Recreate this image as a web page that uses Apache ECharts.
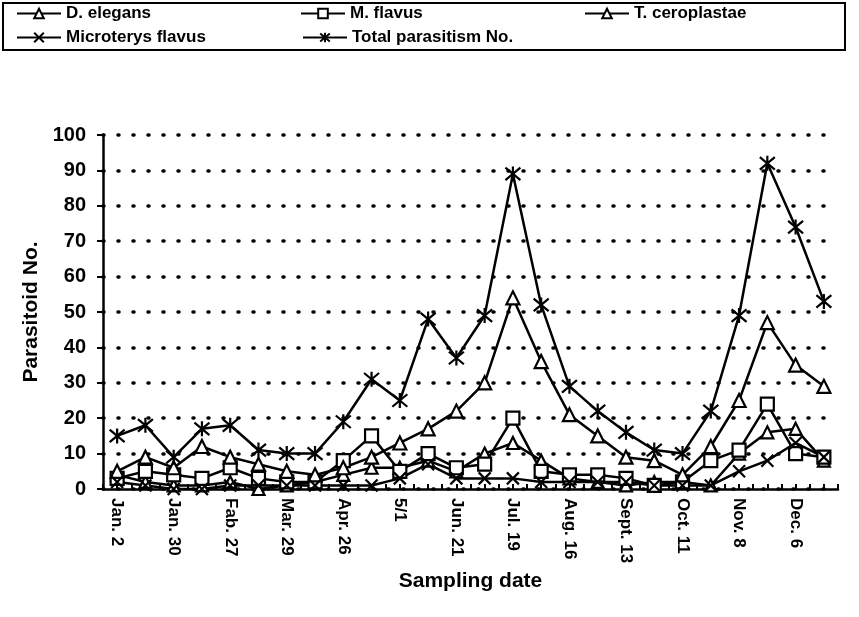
<!DOCTYPE html>
<html>
<head>
<meta charset="utf-8">
<script src="https://cdn.jsdelivr.net/npm/echarts@6/dist/echarts.min.js"></script>
<style>html,body{margin:0;padding:0;background:#fff;}#c{width:859px;height:617px;}</style>
</head>
<body>
<div id="c"></div>
<script>
// 26 sampling occasions; only every other one carries a printed label
const tickLabels = ["Jan. 2","Jan. 30","Fab. 27","Mar. 29","Apr. 26","5/1","Jun. 21","Jul. 19","Aug. 16","Sept. 13","Oct. 11","Nov. 8","Dec. 6"];
const samples = ["s1","s2","s3","s4","s5","s6","s7","s8","s9","s10","s11","s12","s13","s14","s15","s16","s17","s18","s19","s20","s21","s22","s23","s24","s25","s26"];
const dElegans = [4,2,1,1,2,0,1,2,4,6,6,8,5,10,13,8,3,2,1,2,2,1,10,16,17,8];
const mFlavus = [3,5,4,3,6,3,2,2,8,15,5,10,6,7,20,5,4,4,3,1,2,8,11,24,10,9];
const tCeroplastae = [5,9,6,12,9,7,5,4,6,9,13,17,22,30,54,36,21,15,9,8,4,12,25,47,35,29];
const microterys = [2,1,0,0,1,1,1,1,1,1,3,7,3,3,3,2,2,2,2,1,1,1,5,8,13,9];
const total = [15,18,9,17,18,11,10,10,19,31,25,48,37,49,89,52,29,22,16,11,10,22,49,92,74,53];
const halfTicks = [];
for (let i = 0; i < samples.length * 2; i++) halfTicks.push("h" + i);

const FONT = "Liberation Sans";
const X_SYM = 'path://M0,0L10,10M10,0L0,10';
const AST_SYM = 'path://M0,0L10,10M10,0L0,10M5,-1L5,11';

function mk(name, data, symbol, size) {
  return {
    name, type: 'line', data, symbol, symbolSize: size,
    showAllSymbol: true,
    lineStyle: {color: '#000', width: 2.5},
    itemStyle: {color: symbol.startsWith('path') ? '#000' : '#fff', borderColor: '#000', borderWidth: 2.2},
    emphasis: {disabled: true},
    animation: false
  };
}

const chart = echarts.init(document.getElementById('c'), null, {renderer: 'canvas'});
const legendBase = {
  orient: 'horizontal', itemWidth: 44, itemHeight: 12, itemGap: 4,
  textStyle: {fontFamily: FONT, fontSize: 17, fontWeight: 'bold', color: '#000'},
  selectedMode: false, padding: 0
};
chart.setOption({
  backgroundColor: '#fff',
  textStyle: {fontFamily: FONT},
  graphic: [{type: 'rect', shape: {x: 3, y: 3, width: 842, height: 47}, style: {fill: 'none', stroke: '#000', lineWidth: 2}}],
  legend: [
    Object.assign({}, legendBase, {data: ['D. elegans'], left: 16, top: 5}),
    Object.assign({}, legendBase, {data: ['M. flavus'], left: 300, top: 5}),
    Object.assign({}, legendBase, {data: ['T. ceroplastae'], left: 584, top: 5}),
    Object.assign({}, legendBase, {data: ['Microterys flavus'], left: 16, top: 29}),
    Object.assign({}, legendBase, {data: ['Total parasitism No.'], left: 302, top: 29})
  ],
  grid: {left: 103, right: 21, top: 135, bottom: 128},
  xAxis: [{
    type: 'category', data: samples, boundaryGap: true,
    axisLine: {lineStyle: {color: '#000', width: 2.5}},
    axisTick: {show: true, inside: true, length: 5, lineStyle: {color: '#000', width: 2}},
    axisLabel: {
      interval: 1, rotate: -90, margin: 9, color: '#000', fontSize: 17, fontWeight: 'bold', fontFamily: FONT,
      formatter: (v, i) => (i % 2 === 0 ? tickLabels[i / 2] : '')
    },
    name: 'Sampling date', nameLocation: 'middle', nameGap: 77,
    nameTextStyle: {fontSize: 21, fontWeight: 'bold', color: '#000', fontFamily: FONT},
    splitLine: {show: false}
  }, {
    type: 'category', data: halfTicks, position: 'bottom', boundaryGap: true,
    axisLine: {show: false},
    axisTick: {show: true, inside: true, length: 5, interval: 0, lineStyle: {color: '#000', width: 2}},
    axisLabel: {show: false}, splitLine: {show: false}
  }],
  yAxis: {
    type: 'value', min: 0, max: 100, interval: 10,
    axisLine: {show: true, lineStyle: {color: '#000', width: 2.5}},
    axisTick: {show: true, length: 6, lineStyle: {color: '#000', width: 2}},
    axisLabel: {color: '#000', fontSize: 20, fontWeight: 'bold', fontFamily: FONT, margin: 17},
    splitLine: {show: true, lineStyle: {color: '#000', width: 3.5, type: [1, 14], cap: 'round'}},
    name: 'Parasitoid No.', nameLocation: 'middle', nameGap: 58, nameRotate: 90,
    nameTextStyle: {fontSize: 21, fontWeight: 'bold', color: '#000', fontFamily: FONT}
  },
  series: [
    mk('D. elegans', dElegans, 'triangle', 12),
    mk('M. flavus', mFlavus, 'rect', 13),
    mk('T. ceroplastae', tCeroplastae, 'triangle', 13),
    mk('Microterys flavus', microterys, X_SYM, 12),
    mk('Total parasitism No.', total, AST_SYM, 15)
  ]
});
</script>
</body>
</html>
